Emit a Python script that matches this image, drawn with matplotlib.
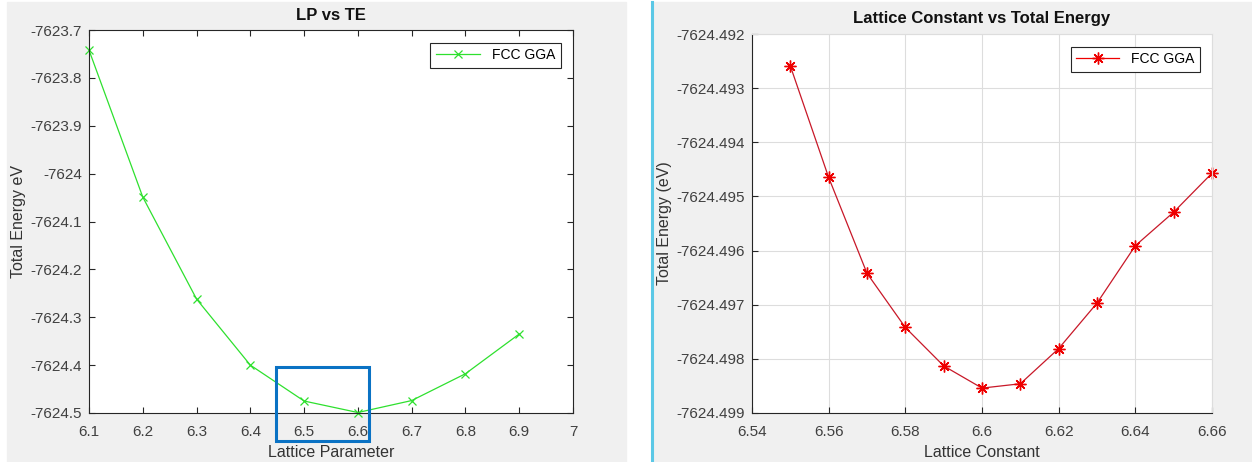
import matplotlib.pyplot as plt
from matplotlib.patches import Rectangle
from matplotlib.lines import Line2D

plt.rcParams['font.family'] = ['Liberation Sans', 'DejaVu Sans']

# lattice parameter scan (coarse)
lp = [6.1, 6.2, 6.3, 6.4, 6.5, 6.6, 6.7, 6.8, 6.9]
lp_energy = [-7623.742, -7624.049, -7624.262, -7624.400, -7624.475,
             -7624.499, -7624.474, -7624.418, -7624.335]
lp_yticks = [-7624.5, -7624.4, -7624.3, -7624.2, -7624.1, -7624.0,
             -7623.9, -7623.8, -7623.7]
lp_yticklabels = ['-7624.5', '-7624.4', '-7624.3', '-7624.2', '-7624.1',
                  '-7624', '-7623.9', '-7623.8', '-7623.7']
lp_xticks = [6.1, 6.2, 6.3, 6.4, 6.5, 6.6, 6.7, 6.8, 6.9, 7.0]
lp_xticklabels = ['6.1', '6.2', '6.3', '6.4', '6.5', '6.6', '6.7', '6.8', '6.9', '7']

# fine scan around the minimum
lc = [6.55, 6.56, 6.57, 6.58, 6.59, 6.60, 6.61, 6.62, 6.63, 6.64, 6.65, 6.66]
lc_energy = [-7624.49259, -7624.49465, -7624.49642, -7624.49742, -7624.49813,
             -7624.49854, -7624.49846, -7624.49781, -7624.49697, -7624.49591,
             -7624.49529, -7624.49457]
lc_yticks = [-7624.499, -7624.498, -7624.497, -7624.496, -7624.495,
             -7624.494, -7624.493, -7624.492]
lc_xticks = [6.54, 6.56, 6.58, 6.60, 6.62, 6.64, 6.66]
lc_xticklabels = ['6.54', '6.56', '6.58', '6.6', '6.62', '6.64', '6.66']

# region highlighted around the minimum
box_x = (6.447, 6.621)
box_y = (-7624.558, -7624.404)

W, H = 1252, 462
fig = plt.figure(figsize=(W / 100, H / 100), dpi=100, facecolor='white')

# gray figure panels and the divider
fig.patches.append(Rectangle((7 / W, 0), (626 - 7) / W, (H - 2) / H,
                             transform=fig.transFigure, color='#f0f0f0', zorder=-2))
fig.patches.append(Rectangle((652 / W, 0), (W - 652) / W, (H - 2) / H,
                             transform=fig.transFigure, color='#f0f0f0', zorder=-2))
fig.lines.append(Line2D([652 / W, 652 / W], [0, (H - 2) / H], transform=fig.transFigure,
                        color='#5bc8e6', lw=2.2, zorder=-1))

dark = '#262626'
tick_kw = dict(direction='in', length=4, width=0.8, colors=dark, labelsize=11,
               labelcolor='#404040')

ax1 = fig.add_axes([89 / W, 49 / H, 484 / W, 383 / H])
ax1.plot(lp, lp_energy, '-x', color='#2ee02e', lw=0.9, ms=6, mew=0.9,
         clip_on=False, label='FCC GGA')
ax1.set_xlim(6.1, 7.0)
ax1.set_ylim(-7624.5, -7623.7)
ax1.set_xticks(lp_xticks, lp_xticklabels)
ax1.set_yticks(lp_yticks, lp_yticklabels)
ax1.tick_params(top=True, right=True, **tick_kw)
ax1.tick_params(axis='x', pad=9)
ax1.tick_params(axis='y', pad=5)
for s in ax1.spines.values():
    s.set_color(dark)
    s.set_linewidth(0.8)
ax1.set_title('LP vs TE', fontsize=12, fontweight='bold', color='#111111', pad=7)
ax1.set_xlabel('Lattice Parameter', fontsize=11.5, color='#333333', labelpad=4)
ax1.set_ylabel('Total Energy eV', fontsize=11.5, color='#333333', labelpad=3)
ax1.add_patch(Rectangle((box_x[0], box_y[0]), box_x[1] - box_x[0], box_y[1] - box_y[0],
                        fill=False, edgecolor='#0a72c4', lw=2.2, clip_on=False, zorder=5))
leg1 = ax1.legend(loc='upper right', fontsize=10, fancybox=False, framealpha=1,
                  edgecolor=dark, handlelength=3.2, borderaxespad=0.9)
leg1.get_frame().set_linewidth(0.8)

ax2 = fig.add_axes([752 / W, 49 / H, 460 / W, 379 / H])
ax2.plot(lc, lc_energy, '-', color='#c81828', lw=0.9, clip_on=False)
ax2.plot(lc, lc_energy, linestyle='none', marker=(8, 2, 0), color='#ee0000',
         ms=8.5, mew=1.0, clip_on=False)
legend_handle = Line2D([], [], color='#ee0000', lw=0.9, marker=(8, 2, 0), ms=8.5, mew=1.0)
ax2.set_xlim(6.54, 6.66)
ax2.set_ylim(-7624.499, -7624.492)
ax2.set_xticks(lc_xticks, lc_xticklabels)
ax2.set_yticks(lc_yticks, [f'{v:.3f}' for v in lc_yticks])
ax2.grid(True, color='#dddddd', lw=0.8)
ax2.set_axisbelow(True)
ax2.tick_params(**tick_kw)
ax2.tick_params(axis='x', pad=9)
ax2.tick_params(axis='y', pad=5)
for side in ('left', 'bottom'):
    ax2.spines[side].set_color(dark)
    ax2.spines[side].set_linewidth(0.8)
for side in ('top', 'right'):
    ax2.spines[side].set_color('#dddddd')
    ax2.spines[side].set_linewidth(0.8)
ax2.set_title('Lattice Constant vs Total Energy', fontsize=12, fontweight='bold',
              color='#111111', pad=8)
ax2.set_xlabel('Lattice Constant', fontsize=11.5, color='#333333', labelpad=4)
ax2.set_ylabel('Total Energy (eV)', fontsize=11.5, color='#333333', labelpad=3)
leg2 = ax2.legend([legend_handle], ['FCC GGA'], loc='upper right', fontsize=10,
                  fancybox=False, framealpha=1, edgecolor=dark, handlelength=3.1,
                  borderaxespad=0.9)
leg2.get_frame().set_linewidth(0.8)

fig.savefig('out.png', dpi=100)
